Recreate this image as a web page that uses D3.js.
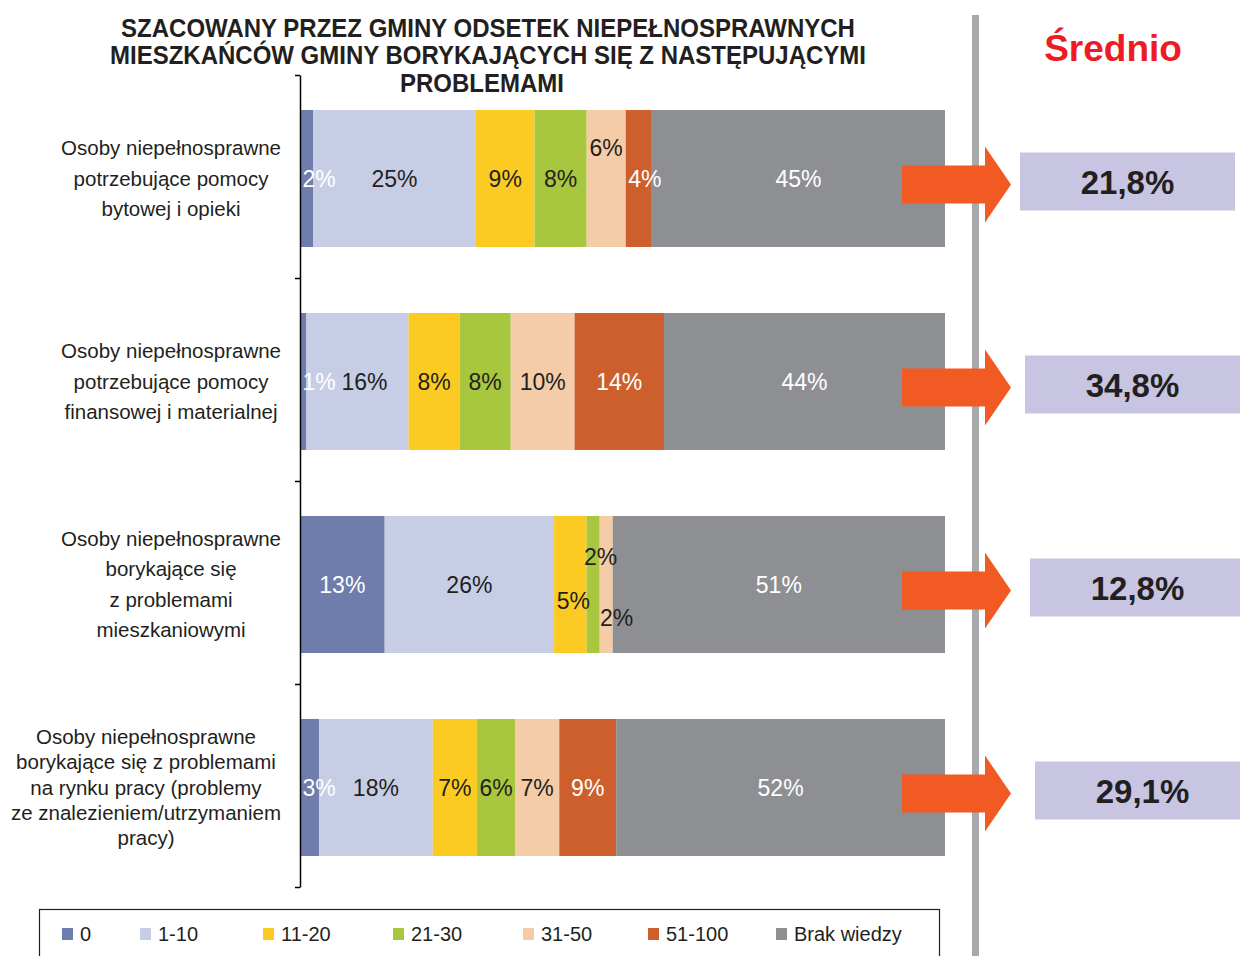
<!DOCTYPE html>
<html>
<head>
<meta charset="utf-8">
<script src="https://cdn.jsdelivr.net/npm/d3@7"></script>
<style>
  body { margin: 0; background: #fff; }
  svg { display: block; }
  text { font-family: "Liberation Sans", Arial, Helvetica, sans-serif; }
</style>
</head>
<body>
<svg id="chart" width="1240" height="956"></svg>
<script>
const TITLE_LINES = [
  "SZACOWANY PRZEZ GMINY ODSETEK NIEPEŁNOSPRAWNYCH",
  "MIESZKAŃCÓW GMINY BORYKAJĄCYCH SIĘ Z NASTĘPUJĄCYMI",
  "PROBLEMAMI",
];

const CATEGORIES = [
  ["Osoby niepełnosprawne", "potrzebujące pomocy", "bytowej i opieki"],
  ["Osoby niepełnosprawne", "potrzebujące pomocy", "finansowej i materialnej"],
  ["Osoby niepełnosprawne", "borykające się", "z problemami", "mieszkaniowymi"],
  ["Osoby niepełnosprawne", "borykające się z problemami", "na rynku pracy (problemy",
    "ze znalezieniem/utrzymaniem", "pracy)"],
];

const SERIES = ["0", "1-10", "11-20", "21-30", "31-50", "51-100", "Brak wiedzy"];

// percent of gminas per category, in SERIES order
const SHARES = [
  [2, 25, 9, 8, 6, 4, 45],
  [1, 16, 8, 8, 10, 14, 44],
  [13, 26, 5, 2, 2, 0, 51],
  [3, 18, 7, 6, 7, 9, 52],
];

const AVERAGES = [21.8, 34.8, 12.8, 29.1];
const AVERAGE_TITLE = "Średnio";

const COLORS = {
  "0": "#6e7dab",
  "1-10": "#c8cde6",
  "11-20": "#fccb23",
  "21-30": "#a8c63e",
  "31-50": "#f4cda8",
  "51-100": "#cd5f2d",
  "Brak wiedzy": "#8e8f93",
};
const WHITE_LABELS = new Set(["0", "51-100", "Brak wiedzy"]);
const INK = "#231f20";

// manual label moves used in the original where segments are too thin
const LABEL_NUDGES = [
  { row: 0, key: "31-50", dx: 0, dy: -31 },
  { row: 1, key: "1-10", dx: 7, dy: 0 },
  { row: 2, key: "11-20", dx: 3, dy: 16 },
  { row: 2, key: "21-30", dx: -5, dy: -28 },
  { row: 2, key: "31-50", dx: -2, dy: 33 },
];

const LEGEND_X = [62, 140, 263, 393, 523, 648, 776];

const svg = d3.select("#chart");

// title
svg.append("g")
  .selectAll("text")
  .data(TITLE_LINES)
  .join("text")
  .attr("x", (d, i) => (i === 2 ? 482 : 488))
  .attr("y", (d, i) => 36.5 + i * 27.8)
  .attr("text-anchor", "middle")
  .attr("font-weight", "bold")
  .attr("font-size", 25)
  .attr("fill", INK)
  .text((d) => d)
  .each(function () {
    const w = this.getComputedTextLength();
    d3.select(this).attr("textLength", w * 0.96).attr("lengthAdjust", "spacingAndGlyphs");
  });

const x = d3.scaleLinear().domain([0, 1]).range([300, 945]);
const y = d3.scaleBand()
  .domain(d3.range(CATEGORIES.length))
  .range([77, 889])
  .paddingInner(0.325)
  .paddingOuter(0.1625);
const bw = y.bandwidth();

const rows = SHARES.map((r) => Object.fromEntries(SERIES.map((s, j) => [s, r[j]])));
const layers = d3.stack().keys(SERIES).offset(d3.stackOffsetExpand)(rows);

// bars
const barG = svg.append("g");
layers.forEach((layer) => {
  barG.append("g")
    .attr("fill", COLORS[layer.key])
    .selectAll("rect")
    .data(layer)
    .join("rect")
    .attr("x", (d) => x(d[0]))
    .attr("y", (d, i) => y(i))
    .attr("width", (d) => x(d[1]) - x(d[0]))
    .attr("height", bw);
});

// segment labels
const labelG = svg.append("g").attr("font-size", 23).attr("text-anchor", "middle");
layers.forEach((layer) => {
  layer.forEach((d, i) => {
    const v = d.data[layer.key];
    if (!v) return;
    const x0 = x(d[0]);
    const x1 = x(d[1]);
    const nudge = LABEL_NUDGES.find((n) => n.row === i && n.key === layer.key) || { dx: 0, dy: 0 };
    const cx = (x1 - x0 < 28 ? x0 + 19 : (x0 + x1) / 2) + nudge.dx;
    const cy = y(i) + bw / 2 + nudge.dy;
    labelG.append("text")
      .attr("x", cx)
      .attr("y", cy + 8)
      .attr("fill", WHITE_LABELS.has(layer.key) ? "#fff" : INK)
      .text(`${v}%`);
  });
});

// axis
const axisScale = d3.scaleLinear().domain([0, CATEGORIES.length]).range([75, 887]);
const axisG = svg.append("g")
  .attr("transform", "translate(300,0)")
  .call(d3.axisLeft(axisScale).tickValues(d3.range(0, CATEGORIES.length + 1)).tickSize(5).tickSizeOuter(0).tickFormat(""));
axisG.selectAll("path, line").attr("stroke", "#000").attr("stroke-width", 1.5);

// category labels
CATEGORIES.forEach((lines, i) => {
  const g = svg.append("g").attr("font-size", 20.5).attr("fill", INK).attr("text-anchor", "middle");
  const lh = lines.length > 4 ? 25.2 : 30.5;
  const cy = y(i) + bw / 2;
  const texts = g.selectAll("text")
    .data(lines)
    .join("text")
    .attr("y", (d, k) => cy + (k - (lines.length - 1) / 2) * lh + 7)
    .text((d) => d);
  let maxW = 0;
  texts.each(function () { maxW = Math.max(maxW, this.getComputedTextLength()); });
  texts.attr("x", 281 - maxW / 2);
});

// separator
svg.append("rect")
  .attr("x", 972)
  .attr("y", 15)
  .attr("width", 7)
  .attr("height", 941)
  .attr("fill", "#a7a9ac");

svg.append("text")
  .attr("x", 1113)
  .attr("y", 61)
  .attr("text-anchor", "middle")
  .attr("font-weight", "bold")
  .attr("font-size", 37)
  .attr("fill", "#ed1c24")
  .text(AVERAGE_TITLE);

// arrows + average boxes
const arrow = d3.line();
const fmt = (v) => d3.format(".1f")(v).replace(".", ",") + "%";
AVERAGES.forEach((v, i) => {
  const cy = y(i) + bw / 2;
  const ay = cy + 6;
  svg.append("path")
    .attr("d", arrow([
      [902, ay - 19], [985, ay - 19], [985, ay - 38], [1011, ay],
      [985, ay + 38], [985, ay + 19], [902, ay + 19],
    ]) + "Z")
    .attr("fill", "#f15a22");
  const bx = 1020 + i * 5;
  const by = cy + 3;
  svg.append("rect")
    .attr("x", bx)
    .attr("y", by - 29)
    .attr("width", 215)
    .attr("height", 58)
    .attr("fill", "#c8c5e2");
  svg.append("text")
    .attr("x", bx + 107.5)
    .attr("y", by + 12)
    .attr("text-anchor", "middle")
    .attr("font-weight", "bold")
    .attr("font-size", 33)
    .attr("fill", INK)
    .text(fmt(v));
});

// legend
const legend = svg.append("g");
legend.append("rect")
  .attr("x", 39.5)
  .attr("y", 909.5)
  .attr("width", 900)
  .attr("height", 70)
  .attr("fill", "none")
  .attr("stroke", INK)
  .attr("stroke-width", 1.2);
const items = legend.selectAll("g.item")
  .data(SERIES)
  .join("g")
  .attr("class", "item")
  .attr("transform", (d, i) => `translate(${LEGEND_X[i]},0)`);
items.append("rect")
  .attr("y", 928)
  .attr("width", 11)
  .attr("height", 12)
  .attr("fill", (d) => COLORS[d]);
items.append("text")
  .attr("x", 18)
  .attr("y", 941)
  .attr("font-size", 20)
  .attr("fill", INK)
  .text((d) => d);
</script>
</body>
</html>
